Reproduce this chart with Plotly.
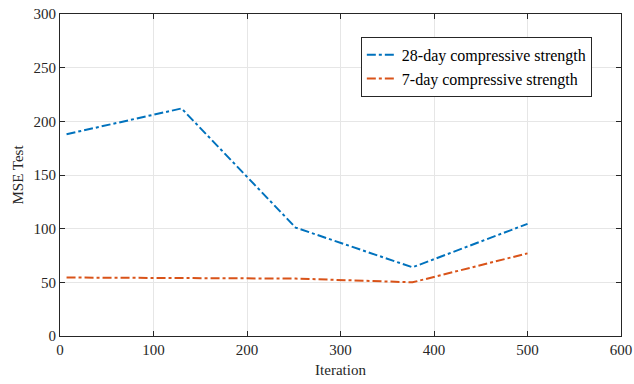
import plotly.graph_objects as go

iterations = [7, 130, 252, 377, 500]
mse_28day = [188, 212, 101, 64, 104.5]
mse_7day = [54.5, 54, 53.5, 50, 77]
series_names = ["28-day compressive strength", "7-day compressive strength"]
x_ticks = [0, 100, 200, 300, 400, 500, 600]
y_ticks = [0, 50, 100, 150, 200, 250, 300]

FONT = "Liberation Serif, Times New Roman, serif"

fig = go.Figure()
fig.add_trace(go.Scatter(x=iterations, y=mse_28day, mode="lines", name=series_names[0],
                         line=dict(color="#0072BD", width=2, dash="dashdot")))
fig.add_trace(go.Scatter(x=iterations, y=mse_7day, mode="lines", name=series_names[1],
                         line=dict(color="#D95319", width=2, dash="dashdot")))

axis_common = dict(showline=True, linecolor="#262626", linewidth=1, mirror="ticks",
                   ticks="inside", ticklen=5, tickcolor="#262626", automargin=False,
                   ticklabeloverflow="allow",
                   showgrid=True, gridcolor="#e6e6e6", gridwidth=1, zeroline=False,
                   tickfont=dict(family=FONT, size=15, color="#262626"))

fig.update_layout(
    width=634, height=384,
    margin=dict(l=60, r=13, t=14, b=48),
    plot_bgcolor="white", paper_bgcolor="white",
    font=dict(family=FONT, size=15, color="#262626"),
    xaxis=dict(range=[0, 600], tickvals=x_ticks,
               title=dict(text="Iteration", font=dict(family=FONT, size=15), standoff=7),
               **axis_common),
    yaxis=dict(range=[0, 300], tickvals=y_ticks,
               title=dict(text="MSE Test", font=dict(family=FONT, size=15), standoff=6),
               **axis_common),
    legend=dict(x=0.948, y=0.929, xanchor="right", yanchor="top",
                bgcolor="white", bordercolor="#262626", borderwidth=1,
                font=dict(family=FONT, size=16, color="black"),
                itemwidth=30, tracegroupgap=5),
    showlegend=True,
)

# remove the page's default 8px body margin so the figure fills the window exactly
fig.write_html("out.html", config={"displayModeBar": False},
               post_script="document.body.style.margin='0';")
